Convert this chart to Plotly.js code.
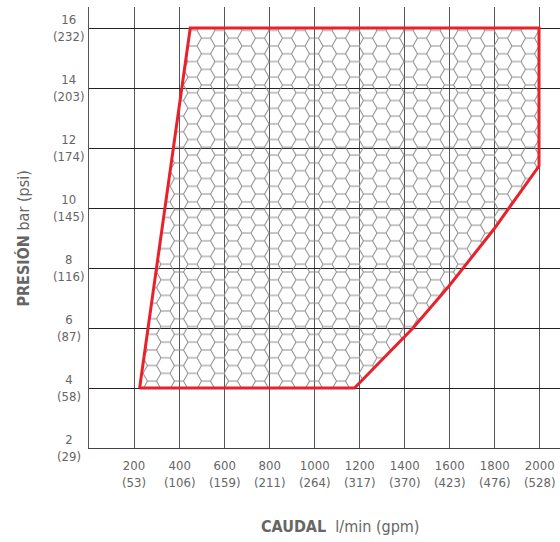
<!DOCTYPE html>
<html><head><meta charset="utf-8">
<script src="https://cdn.plot.ly/plotly-3.0.1.min.js"></script>
<style>body{margin:0;background:#fff}</style></head>
<body><div id="chart" style="width:560px;height:542px"></div>
<script>
// Operating envelope (caudal l/min vs presión bar)
const flowLpm = [225, 450, 2000, 2000, 1800, 1600, 1440, 1180, 225];
const pressureBar = [4, 16, 16, 11.4, 9.3, 7.4, 6, 4, 4];

// Tick values and secondary-unit labels
const pressureTicks = [2, 4, 6, 8, 10, 12, 14, 16];
const psiLabels = ["29", "58", "87", "116", "145", "174", "203", "232"];
const flowTicks = [200, 400, 600, 800, 1000, 1200, 1400, 1600, 1800, 2000];
const gpmLabels = ["53", "106", "159", "211", "264", "317", "370", "423", "476", "528"];

const FONT = '"Liberation Sans Narrow", "DejaVu Sans Condensed", "Noto Sans", sans-serif';
const GREY = '#666666';

const annotations = [];
pressureTicks.forEach((v, i) => annotations.push({
  xref: 'paper', yref: 'y', x: -0.0425, y: v,
  text: v + '<br>(' + psiLabels[i] + ')',
  showarrow: false, xanchor: 'center', yanchor: 'middle', align: 'center',
  font: {family: FONT, size: 13, color: GREY}
}));
flowTicks.forEach((v, i) => annotations.push({
  xref: 'x', yref: 'paper', x: v, y: -0.058,
  text: v + '<br>(' + gpmLabels[i] + ')',
  showarrow: false, xanchor: 'center', yanchor: 'middle', align: 'center',
  font: {family: FONT, size: 13, color: GREY}
}));
annotations.push({
  xref: 'paper', yref: 'paper', x: 0.533, y: -0.177,
  text: '<b>CAUDAL</b>&nbsp;&nbsp;l/min (gpm)',
  showarrow: false, xanchor: 'center', yanchor: 'middle',
  font: {family: FONT, size: 16, color: GREY}
});
annotations.push({
  xref: 'paper', yref: 'paper', x: -0.14, y: 0.475,
  text: '<b>PRESIÓN</b> bar (psi)', textangle: -90,
  showarrow: false, xanchor: 'center', yanchor: 'middle',
  font: {family: FONT, size: 16, color: GREY}
});

const data = [{
  type: 'scatter', mode: 'lines', x: flowLpm, y: pressureBar,
  fill: 'toself', fillcolor: 'rgba(0,0,0,0)',
  line: {color: '#e8212b', width: 3}, hoverinfo: 'skip'
}];

const layout = {
  width: 560, height: 542,
  margin: {l: 89, r: 0, t: 7, b: 94},
  paper_bgcolor: '#fff', plot_bgcolor: '#fff',
  showlegend: false,
  xaxis: {
    range: [0, 2093.3], tick0: 0, dtick: 200, showticklabels: false,
    showgrid: true, gridcolor: '#555', gridwidth: 1, zeroline: false,
    showline: true, linecolor: '#444', linewidth: 1, ticks: ''
  },
  yaxis: {
    range: [2, 16.7], tick0: 0, dtick: 2, showticklabels: false,
    showgrid: true, gridcolor: '#222', gridwidth: 1, zeroline: false,
    showline: true, linecolor: '#555', linewidth: 1, ticks: ''
  },
  annotations: annotations
};

Plotly.newPlot('chart', data, layout, {staticPlot: true}).then(gd => {
  const ns = 'http://www.w3.org/2000/svg';
  const svg = gd.querySelector('svg.main-svg');
  let defs = svg.querySelector('defs');
  if (!defs) { defs = document.createElementNS(ns, 'defs'); svg.insertBefore(defs, svg.firstChild); }
  const R = 9, H = Math.sqrt(3) * R, h = H / 2;
  const pat = document.createElementNS(ns, 'pattern');
  pat.setAttribute('id', 'hexpat');
  pat.setAttribute('patternUnits', 'userSpaceOnUse');
  pat.setAttribute('width', 3 * R);
  pat.setAttribute('height', H);
  const p = document.createElementNS(ns, 'path');
  p.setAttribute('d', `M0,${h} L${R/2},0 L${1.5*R},0 L${2*R},${h} L${1.5*R},${H} L${R/2},${H} Z M${2*R},${h} L${3*R},${h}`);
  p.setAttribute('fill', 'none');
  p.setAttribute('stroke', '#8a8a8a');
  p.setAttribute('stroke-width', '1');
  pat.appendChild(p);
  defs.appendChild(pat);
  gd.querySelectorAll('.js-fill').forEach(el => { el.style.fill = 'url(#hexpat)'; el.style.fillOpacity = 1; });
});
</script>
</body></html>
